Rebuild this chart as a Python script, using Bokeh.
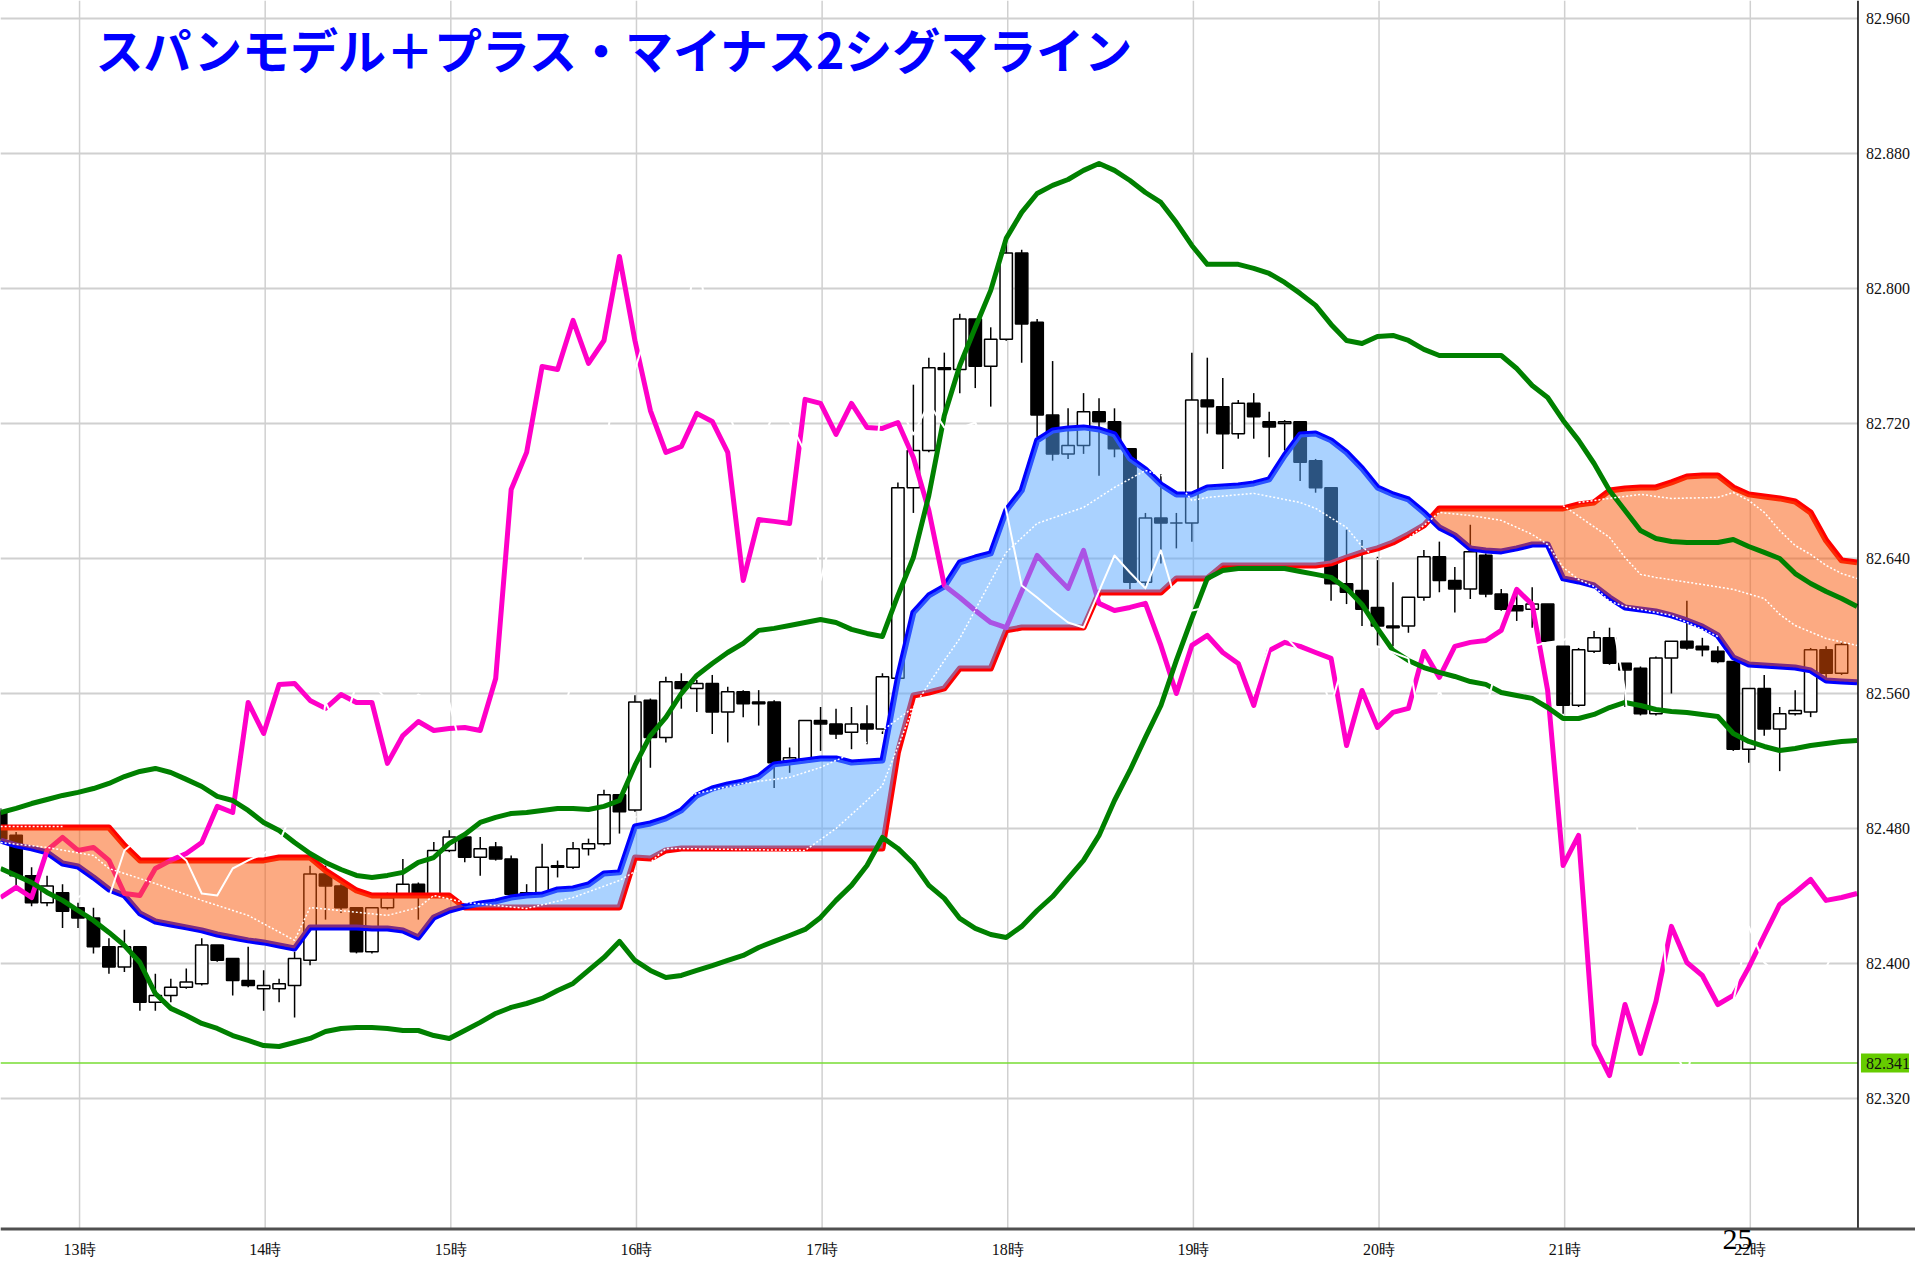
import numpy as np
from bokeh.plotting import figure
from bokeh.models import ColumnDataSource, Label, Range1d
from bokeh.core.properties import value
from bokeh.embed import file_html
from bokeh.resources import INLINE

# ---------------- data (5-minute bars, bar index 0 = 13:00) ----------------
FIRST_BAR = -5
title_text = "スパンモデル＋プラス・マイナス2シグマライン"
hour_ticks = [0, 12, 24, 36, 48, 60, 72, 84, 96, 108]
hour_labels = ["13時", "14時", "15時", "16時", "17時", "18時", "19時", "20時", "21時", "22時"]
price_ticks = [82.32, 82.40, 82.48, 82.56, 82.64, 82.72, 82.80, 82.88, 82.96]
last_price = 82.341
corner_text = "25"

opens = [82.490, 82.476, 82.452, 82.436, 82.442, 82.433, 82.427, 82.410, 82.398, 82.410,
         82.377, 82.381, 82.386, 82.388, 82.411, 82.403, 82.390, 82.385, 82.385, 82.387,
         82.402, 82.453, 82.446, 82.433, 82.407, 82.433, 82.441, 82.447, 82.441, 82.467,
         82.475, 82.463, 82.469, 82.462, 82.442, 82.441, 82.457, 82.457, 82.468, 82.471,
         82.500, 82.491, 82.556, 82.534, 82.567, 82.563, 82.566, 82.549, 82.561, 82.555,
         82.555, 82.520, 82.521, 82.544, 82.542, 82.537, 82.542, 82.539, 82.569, 82.682,
         82.704, 82.753, 82.752, 82.782, 82.754, 82.770, 82.821, 82.780, 82.725, 82.702,
         82.707, 82.727, 82.721, 82.705, 82.626, 82.664, 82.661, 82.661, 82.734, 82.730,
         82.714, 82.732, 82.721, 82.720, 82.721, 82.698, 82.682, 82.625, 82.621, 82.611,
         82.600, 82.600, 82.617, 82.641, 82.627, 82.622, 82.642, 82.619, 82.612, 82.610,
         82.613, 82.588, 82.553, 82.585, 82.593, 82.578, 82.575, 82.548, 82.581, 82.591,
         82.588, 82.585, 82.579, 82.527, 82.563, 82.539, 82.548, 82.549, 82.586, 82.572]
highs = [82.492, 82.478, 82.457, 82.452, 82.447, 82.436, 82.433, 82.415, 82.420, 82.410,
         82.394, 82.391, 82.397, 82.415, 82.411, 82.403, 82.410, 82.396, 82.391, 82.407,
         82.458, 82.458, 82.447, 82.433, 82.433, 82.442, 82.462, 82.448, 82.472, 82.479,
         82.478, 82.475, 82.472, 82.464, 82.447, 82.471, 82.461, 82.472, 82.474, 82.503,
         82.500, 82.559, 82.557, 82.570, 82.572, 82.568, 82.571, 82.564, 82.562, 82.562,
         82.556, 82.528, 82.544, 82.552, 82.551, 82.552, 82.553, 82.572, 82.685, 82.743,
         82.759, 82.762, 82.785, 82.782, 82.777, 82.830, 82.823, 82.782, 82.757, 82.729,
         82.738, 82.735, 82.729, 82.705, 82.667, 82.690, 82.667, 82.762, 82.759, 82.747,
         82.734, 82.738, 82.727, 82.722, 82.721, 82.699, 82.682, 82.657, 82.651, 82.641,
         82.626, 82.617, 82.645, 82.650, 82.635, 82.660, 82.643, 82.622, 82.622, 82.623,
         82.613, 82.588, 82.587, 82.597, 82.599, 82.578, 82.576, 82.582, 82.591, 82.615,
         82.593, 82.588, 82.579, 82.563, 82.571, 82.552, 82.562, 82.587, 82.588, 82.591]
lows = [82.472, 82.446, 82.434, 82.434, 82.421, 82.421, 82.406, 82.394, 82.395, 82.372,
        82.372, 82.377, 82.385, 82.387, 82.401, 82.381, 82.386, 82.372, 82.377, 82.368,
        82.399, 82.426, 82.430, 82.406, 82.406, 82.432, 82.441, 82.426, 82.440, 82.466,
        82.460, 82.452, 82.461, 82.440, 82.440, 82.440, 82.451, 82.456, 82.464, 82.470,
        82.477, 82.490, 82.516, 82.531, 82.551, 82.549, 82.536, 82.531, 82.546, 82.541,
        82.504, 82.513, 82.519, 82.526, 82.533, 82.527, 82.530, 82.536, 82.568, 82.667,
        82.703, 82.724, 82.738, 82.741, 82.730, 82.769, 82.756, 82.712, 82.698, 82.699,
        82.702, 82.689, 82.700, 82.622, 82.622, 82.637, 82.646, 82.650, 82.714, 82.693,
        82.711, 82.711, 82.700, 82.704, 82.686, 82.679, 82.615, 82.613, 82.600, 82.588,
        82.588, 82.596, 82.615, 82.620, 82.608, 82.616, 82.617, 82.609, 82.603, 82.599,
        82.590, 82.548, 82.552, 82.584, 82.577, 82.552, 82.547, 82.547, 82.560, 82.586,
        82.582, 82.578, 82.526, 82.519, 82.535, 82.514, 82.547, 82.546, 82.568, 82.571]
closes = [82.474, 82.452, 82.436, 82.446, 82.431, 82.427, 82.410, 82.398, 82.410, 82.377,
          82.381, 82.386, 82.389, 82.411, 82.402, 82.390, 82.387, 82.387, 82.388, 82.403,
          82.453, 82.446, 82.433, 82.407, 82.433, 82.439, 82.447, 82.441, 82.467, 82.475,
          82.463, 82.468, 82.462, 82.441, 82.441, 82.457, 82.458, 82.468, 82.471, 82.500,
          82.490, 82.555, 82.534, 82.567, 82.563, 82.566, 82.549, 82.561, 82.554, 82.554,
          82.519, 82.522, 82.544, 82.542, 82.536, 82.542, 82.539, 82.570, 82.682, 82.704,
          82.753, 82.752, 82.782, 82.754, 82.770, 82.821, 82.779, 82.725, 82.702, 82.707,
          82.727, 82.721, 82.705, 82.626, 82.664, 82.661, 82.661, 82.734, 82.730, 82.714,
          82.732, 82.724, 82.718, 82.721, 82.697, 82.682, 82.625, 82.620, 82.610, 82.600,
          82.599, 82.617, 82.641, 82.627, 82.622, 82.644, 82.619, 82.610, 82.609, 82.613,
          82.591, 82.553, 82.586, 82.593, 82.578, 82.574, 82.548, 82.581, 82.591, 82.587,
          82.586, 82.579, 82.527, 82.563, 82.539, 82.548, 82.550, 82.586, 82.572, 82.589]

# span lines, bands and lagging line, one value per bar from FIRST_BAR to 115
red_span = [82.4806, 82.4806, 82.4806, 82.4806, 82.4806, 82.4806, 82.4806, 82.4806, 82.4700, 82.4611,
            82.4611, 82.4611, 82.4611, 82.4611, 82.4611, 82.4611, 82.4611, 82.4611, 82.4628, 82.4628,
            82.4628, 82.4551, 82.4492, 82.4433, 82.4403, 82.4403, 82.4403, 82.4403, 82.4403, 82.4403,
            82.4332, 82.4332, 82.4332, 82.4332, 82.4332, 82.4332, 82.4332, 82.4332, 82.4332, 82.4332,
            82.4332, 82.4628, 82.4622, 82.4670, 82.4682, 82.4682, 82.4682, 82.4682, 82.4682, 82.4682,
            82.4682, 82.4682, 82.4682, 82.4682, 82.4682, 82.4682, 82.4682, 82.4682, 82.5251, 82.5588,
            82.5606, 82.5630, 82.5748, 82.5748, 82.5748, 82.5974, 82.5991, 82.5991, 82.5991, 82.5991,
            82.5991, 82.6199, 82.6199, 82.6199, 82.6199, 82.6199, 82.6282, 82.6282, 82.6282, 82.6359,
            82.6359, 82.6359, 82.6359, 82.6359, 82.6359, 82.6359, 82.6371, 82.6406, 82.6436, 82.6460,
            82.6495, 82.6543, 82.6596, 82.6697, 82.6697, 82.6697, 82.6697, 82.6697, 82.6697, 82.6697,
            82.6697, 82.6697, 82.6720, 82.6732, 82.6803, 82.6815, 82.6821, 82.6821, 82.6851, 82.6886,
            82.6892, 82.6892, 82.6821, 82.6780, 82.6768, 82.6756, 82.6738, 82.6673, 82.6507, 82.6389,
            82.6377]
blue_span = [82.4729, 82.4700, 82.4682, 82.4658, 82.4593, 82.4575, 82.4510, 82.4439, 82.4403, 82.4297,
             82.4249, 82.4231, 82.4214, 82.4196, 82.4172, 82.4154, 82.4137, 82.4125, 82.4107, 82.4089,
             82.4214, 82.4214, 82.4214, 82.4214, 82.4208, 82.4208, 82.4196, 82.4154, 82.4273, 82.4314,
             82.4338, 82.4356, 82.4368, 82.4391, 82.4403, 82.4409, 82.4439, 82.4445, 82.4468, 82.4534,
             82.4540, 82.4812, 82.4830, 82.4860, 82.4907, 82.4996, 82.5037, 82.5061, 82.5079, 82.5108,
             82.5180, 82.5191, 82.5203, 82.5215, 82.5215, 82.5191, 82.5197, 82.5203, 82.5695, 82.6080,
             82.6181, 82.6234, 82.6377, 82.6406, 82.6430, 82.6685, 82.6803, 82.7100, 82.7159, 82.7171,
             82.7177, 82.7165, 82.7135, 82.6993, 82.6928, 82.6839, 82.6780, 82.6780, 82.6821, 82.6827,
             82.6833, 82.6845, 82.6869, 82.7011, 82.7135, 82.7141, 82.7100, 82.7029, 82.6934, 82.6821,
             82.6780, 82.6750, 82.6673, 82.6584, 82.6537, 82.6460, 82.6448, 82.6442, 82.6460, 82.6483,
             82.6483, 82.6282, 82.6264, 82.6240, 82.6169, 82.6110, 82.6098, 82.6086, 82.6063, 82.6033,
             82.5997, 82.5944, 82.5814, 82.5772, 82.5766, 82.5760, 82.5754, 82.5737, 82.5677, 82.5671,
             82.5666]
band_upper = [82.4895, 82.4919, 82.4948, 82.4972, 82.4996, 82.5014, 82.5037, 82.5067, 82.5108, 82.5138,
              82.5156, 82.5132, 82.5091, 82.5049, 82.4990, 82.4966, 82.4907, 82.4836, 82.4788, 82.4717,
              82.4652, 82.4599, 82.4557, 82.4522, 82.4510, 82.4522, 82.4540, 82.4599, 82.4628, 82.4712,
              82.4765, 82.4836, 82.4866, 82.4889, 82.4895, 82.4907, 82.4919, 82.4919, 82.4913, 82.4931,
              82.4966, 82.5174, 82.5351, 82.5458, 82.5600, 82.5707, 82.5778, 82.5843, 82.5897, 82.5974,
              82.5986, 82.6003, 82.6021, 82.6039, 82.6021, 82.5980, 82.5956, 82.5938, 82.6181, 82.6406,
              82.6774, 82.7248, 82.7544, 82.7769, 82.7989, 82.8297, 82.8451, 82.8563, 82.8611, 82.8646,
              82.8700, 82.8741, 82.8700, 82.8640, 82.8569, 82.8510, 82.8391, 82.8255, 82.8143, 82.8143,
              82.8143, 82.8119, 82.8089, 82.8036, 82.7971, 82.7900, 82.7787, 82.7692, 82.7674, 82.7716,
              82.7722, 82.7692, 82.7639, 82.7603, 82.7603, 82.7603, 82.7603, 82.7603, 82.7526, 82.7425,
              82.7354, 82.7218, 82.7100, 82.6963, 82.6803, 82.6685, 82.6566, 82.6519, 82.6501, 82.6495,
              82.6495, 82.6495, 82.6513, 82.6471, 82.6436, 82.6400, 82.6311, 82.6252, 82.6205, 82.6163,
              82.6116]
band_lower = [82.4563, 82.4522, 82.4480, 82.4421, 82.4374, 82.4314, 82.4255, 82.4184, 82.4107, 82.4006,
              82.3822, 82.3734, 82.3692, 82.3645, 82.3615, 82.3573, 82.3544, 82.3514, 82.3508, 82.3532,
              82.3556, 82.3597, 82.3615, 82.3621, 82.3621, 82.3615, 82.3603, 82.3603, 82.3573, 82.3556,
              82.3603, 82.3651, 82.3704, 82.3740, 82.3763, 82.3793, 82.3840, 82.3882, 82.3959, 82.4036,
              82.4131, 82.4018, 82.3959, 82.3917, 82.3929, 82.3959, 82.3988, 82.4018, 82.4048, 82.4095,
              82.4131, 82.4166, 82.4202, 82.4273, 82.4374, 82.4463, 82.4581, 82.4747, 82.4682, 82.4593,
              82.4463, 82.4386, 82.4267, 82.4208, 82.4172, 82.4154, 82.4220, 82.4314, 82.4397, 82.4504,
              82.4611, 82.4759, 82.4966, 82.5144, 82.5340, 82.5529, 82.5796, 82.6045, 82.6282, 82.6329,
              82.6341, 82.6341, 82.6341, 82.6341, 82.6323, 82.6306, 82.6288, 82.6223, 82.6128, 82.5986,
              82.5855, 82.5796, 82.5754, 82.5725, 82.5701, 82.5671, 82.5654, 82.5606, 82.5588, 82.5571,
              82.5517, 82.5452, 82.5452, 82.5476, 82.5517, 82.5547, 82.5529, 82.5505, 82.5494, 82.5488,
              82.5476, 82.5464, 82.5363, 82.5316, 82.5286, 82.5262, 82.5274, 82.5292, 82.5304, 82.5316,
              82.5322]
lag_line = [82.4391, 82.4451, 82.4391, 82.4670, 82.4747, 82.4670, 82.4688, 82.4611, 82.4415, 82.4403,
            82.4563, 82.4611, 82.4652, 82.4717, 82.4931, 82.4895, 82.5547, 82.5363, 82.5654, 82.5660,
            82.5559, 82.5512, 82.5594, 82.5547, 82.5547, 82.5186, 82.5351, 82.5434, 82.5381, 82.5393,
            82.5399, 82.5381, 82.5689, 82.6809, 82.7029, 82.7538, 82.7520, 82.7811, 82.7556, 82.7692,
            82.8190, 82.7692, 82.7277, 82.7029, 82.7064, 82.7260, 82.7212, 82.7029, 82.6270, 82.6631,
            82.6620, 82.6608, 82.7343, 82.7319, 82.7135, 82.7319, 82.7177, 82.7171, 82.7206, 82.6999,
            82.6685, 82.6240, 82.6169, 82.6092, 82.6021, 82.5991, 82.6205, 82.6418, 82.6317, 82.6223,
            82.6448, 82.6134, 82.6092, 82.6110, 82.6134, 82.5885, 82.5600, 82.5885, 82.5944, 82.5843,
            82.5778, 82.5529, 82.5855, 82.5903, 82.5879, 82.5843, 82.5808, 82.5292, 82.5618, 82.5399,
            82.5488, 82.5512, 82.5849, 82.5695, 82.5879, 82.5903, 82.5914, 82.5974, 82.6217, 82.6128,
            82.5618, 82.4581, 82.4759, 82.3520, 82.3336, 82.3757, 82.3467, 82.3775, 82.4220, 82.4006,
            82.3929, 82.3757, 82.3811, 82.3977, 82.4166, 82.4350, 82.4421, 82.4498, 82.4374, 82.4391,
            82.4415]
white_shift = 5  # the white line repeats the pink line 5 bars later

nan = float("nan")
dot_a_x = [-5, -2, 1, 2, 5, 8, 11, 14, 15, 20, 22, 23, 25, 29, 32, 35, 37, 38, 47, 49,
           51, 52, 54, 56, 57, 60, 62, 65, 67, 69, 71, 72, 73, 76, 79, 80, 82, 83, 84, 86,
           88, 90, 92, 94, 95, 96, 97, 98, 99, 100, 103, 106]
dot_a_y = [82.4717, 82.4688, 82.4640, 82.4563, 82.4474, 82.4374, 82.4285, 82.4137, 82.4332, 82.4285,
           82.4332, 82.4403, 82.4362, 82.4326, 82.4391, 82.4492, 82.4599, 82.4682, 82.4670, 82.4800,
           82.4966, 82.5055, 82.5517, 82.5796, 82.5926, 82.6436, 82.6608, 82.6703, 82.6821, 82.6922,
           82.6863, 82.6744, 82.6762, 82.6786, 82.6732, 82.6697, 82.6584, 82.6471, 82.6394, 82.6519,
           82.6673, 82.6655, 82.6626, 82.6543, 82.6483, 82.6347, 82.6276, 82.6234, 82.6146, 82.6116,
           82.6063, 82.5938]
dot_b_x = [36, 40, 43, 46, 48, 50, 52, 54, nan, 96, 99, 100, 101, 102, 105, 107, 109, 110, 111, 113, 115]
dot_b_y = [82.4866, 82.5008, 82.5067, 82.5103, 82.5162, 82.5245, 82.5381, 82.5517, nan, 82.6714,
           82.6525, 82.6406, 82.6306, 82.6288, 82.6246, 82.6217, 82.6163, 82.6069, 82.6003, 82.5926, 82.5885]
dot_c_x = [-5, -1, nan, 97, 101, 103, 106, 107, 108, 109, 110, 111, 112, 113, 114, 115]
dot_c_y = [82.4812, 82.4812, nan, 82.6732, 82.6780, 82.6756, 82.6762, 82.6791, 82.6744, 82.6673,
           82.6566, 82.6477, 82.6424, 82.6359, 82.6311, 82.6282]

# ---------------- layout constants (bar units / price units) ----------------
W, H = 1915, 1265
BAR_PX = 15.47                      # pixels per 5-minute bar
PRICE_PX = 1687.5                   # pixels per 1.000 of price
X0 = -77.5 / BAR_PX                 # bar 0 sits 77.5 px from the left edge
X1 = X0 + W / BAR_PX
Y1 = 82.97067                       # price at the top edge
Y0 = Y1 - H / PRICE_PX
AXIS_X = 115.06                     # right edge of the plotting area
AXIS_Y = 82.2427                    # bottom edge of the plotting area
GRID_DX = 0.1                       # hour lines sit slightly right of the bar centre
NARROW = value("Liberation Sans Narrow")

p = figure(frame_width=W, frame_height=H,
           x_range=Range1d(X0, X1), y_range=Range1d(Y0, Y1),
           output_backend="svg", toolbar_location=None,
           x_axis_location=None, y_axis_location=None,
           min_border=0, min_border_left=0, min_border_right=0, min_border_top=0, min_border_bottom=0,
           background_fill_color="white", border_fill_color="white")
p.outline_line_color = None
p.grid.visible = False

# grid
gx = [t + GRID_DX for t in hour_ticks]
p.segment(x0=gx, y0=[AXIS_Y] * len(gx), x1=gx, y1=[Y1] * len(gx), line_color="#d0d0d0", line_width=1.5)
p.segment(x0=[X0] * len(price_ticks), y0=price_ticks, x1=[AXIS_X] * len(price_ticks), y1=price_ticks,
          line_color="#d0d0d0", line_width=2)
p.segment(x0=[X0], y0=[last_price], x1=[AXIS_X], y1=[last_price], line_color="#77DD33", line_width=1.5)

# candles
bars = list(range(FIRST_BAR, FIRST_BAR + len(opens)))
is_up = [c >= o for o, c in zip(opens, closes)]
csrc = ColumnDataSource(dict(
    x=bars,
    top=[max(o, c) for o, c in zip(opens, closes)],
    bottom=[min(o, c) for o, c in zip(opens, closes)],
    high=highs, low=lows,
    fill=["white" if u else "black" for u in is_up]))
p.segment(x0="x", y0="low", x1="x", y1="high", source=csrc, line_color="black", line_width=1.5)
p.vbar(x="x", width=0.8, top="top", bottom="bottom", source=csrc,
       fill_color="fill", line_color="black", line_width=1.5)

line_x = list(range(FIRST_BAR, FIRST_BAR + len(red_span)))
p.line(line_x, red_span, line_color="#FF0000", line_width=6, line_join="round")
p.line(line_x, blue_span, line_color="#0000FF", line_width=6, line_join="round")
p.line(line_x, lag_line, line_color="#FF00C8", line_width=5, line_join="round")

# clouds (semi-transparent, drawn over candles and span lines)
xf = np.linspace(line_x[0], line_x[-1], (len(line_x) - 1) * 10 + 1)
rf = np.interp(xf, line_x, red_span)
bf = np.interp(xf, line_x, blue_span)
top = np.maximum(rf, bf)
p.varea(x=xf, y1=rf, y2=top, fill_color="#55A5FF", fill_alpha=0.5)
p.varea(x=xf, y1=bf, y2=top, fill_color="#F95505", fill_alpha=0.5)

p.line(line_x, band_upper, line_color="#008000", line_width=5, line_join="round")
p.line(line_x, band_lower, line_color="#008000", line_width=5, line_join="round")

wx = [x + white_shift for x in line_x if x + white_shift <= line_x[-1]]
wy = lag_line[:len(wx)]
p.line(wx, wy, line_color="white", line_width=2, line_join="round")

for dx, dy in ((dot_a_x, dot_a_y), (dot_b_x, dot_b_y), (dot_c_x, dot_c_y)):
    p.line(dx, dy, line_color="white", line_width=1.5, line_dash="2 2")

# axes drawn by hand
p.segment(x0=[AXIS_X], y0=[AXIS_Y], x1=[AXIS_X], y1=[Y1], line_color="black", line_width=1.5)
p.segment(x0=[X0], y0=[AXIS_Y], x1=[X1], y1=[AXIS_Y], line_color="#505050", line_width=3)
p.text(x=[AXIS_X + 8 / BAR_PX] * len(price_ticks), y=price_ticks,
       text=["%.3f" % t for t in price_ticks], text_font=NARROW, text_font_size="16px",
       text_color="#111111", text_baseline="middle", text_align="left")
p.text(x=gx, y=[AXIS_Y - 20.5 / PRICE_PX] * len(gx), text=hour_labels, text_font=NARROW,
       text_font_size="16px", text_color="#111111", text_baseline="middle", text_align="center")

# last price tag
p.quad(left=[AXIS_X + 3 / BAR_PX], right=[AXIS_X + 51 / BAR_PX], top=[last_price + 9.5 / PRICE_PX],
       bottom=[last_price - 9.5 / PRICE_PX], fill_color="#66CC00", line_color=None)
p.text(x=[AXIS_X + 8 / BAR_PX], y=[last_price], text=["%.3f" % last_price], text_font=NARROW,
       text_font_size="16px", text_color="#111111", text_baseline="middle", text_align="left")

# small page number at the bottom
p.text(x=[(1722 - 77.5) / BAR_PX], y=[AXIS_Y - 1.5 / PRICE_PX], text=[corner_text],
       text_font=value("Liberation Serif"), text_font_size="30px", text_color="black",
       text_baseline="top", text_align="left")

# title
p.add_layout(Label(x=95, y=H - 47, x_units="screen", y_units="screen", text=title_text,
                   text_font="Noto Sans CJK JP", text_font_style="bold", text_font_size="48px",
                   text_color="#0000FF", text_baseline="middle", text_align="left"))

open("out.html", "w").write(file_html(p, INLINE))
